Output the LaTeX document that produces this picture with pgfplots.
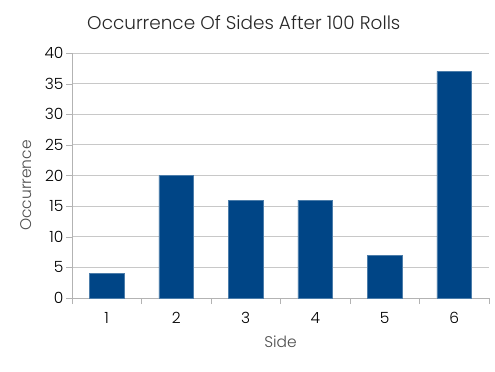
\documentclass[border=0pt]{standalone}
\usepackage{pgfplots}
\pgfplotsset{compat=1.18}
\usepackage{fontspec}
\setmainfont{Poppins}[UprightFont={* Light}]
\definecolor{barblue}{HTML}{004586}
\definecolor{gridgray}{HTML}{C8C8C8}
\definecolor{axgray}{HTML}{B3B3B3}
\begin{document}
\begin{tikzpicture}[x=1bp,y=1bp]
\useasboundingbox (0,0) rectangle (495,371);
\begin{axis}[
  at={(72bp,73bp)}, anchor=south west,
  width=417bp, height=245bp, scale only axis,
  ymin=0, ymax=40, ytick={0,5,...,40},
  xmin=0.5, xmax=6.5,
  xtick={1,...,6},
  minor xtick={0.5,1.5,...,6.5},
  major x tick style={draw=none},
  minor x tick style={axgray},
  minor tick length=6bp,
  major tick length=6bp,
  tick align=outside,
  ymajorgrids, grid style={gridgray, line width=0.8pt},
  axis x line*=bottom, axis y line*=left,
  axis line style={axgray, line width=0.8pt},
  y tick style={axgray},
  /pgf/number format/assume math mode=true,
  tick label style={font=\fontsize{15.5}{17}\selectfont, text=black},
  yticklabel style={xshift=1bp},
  xticklabel style={yshift=-5bp},
  xlabel={Side}, ylabel={Occurrence},
  xlabel style={yshift=-5bp},
  ylabel style={yshift=6bp, xshift=-10bp},
  label style={font=\fontsize{15.5}{17}\selectfont, text=black!70},
  title={Occurrence Of Sides After 100 Rolls},
  title style={font=\fontsize{18.5}{20}\selectfont, text=black!85, at={(0.412,1)}, yshift=14bp},
  ybar, bar width=0.5,
  clip=false,
]
\addplot[fill=barblue, draw=barblue!70!white, line width=0.4pt] coordinates {(1,4) (2,20) (3,16) (4,16) (5,7) (6,37)};
\end{axis}
\end{tikzpicture}
\end{document}
